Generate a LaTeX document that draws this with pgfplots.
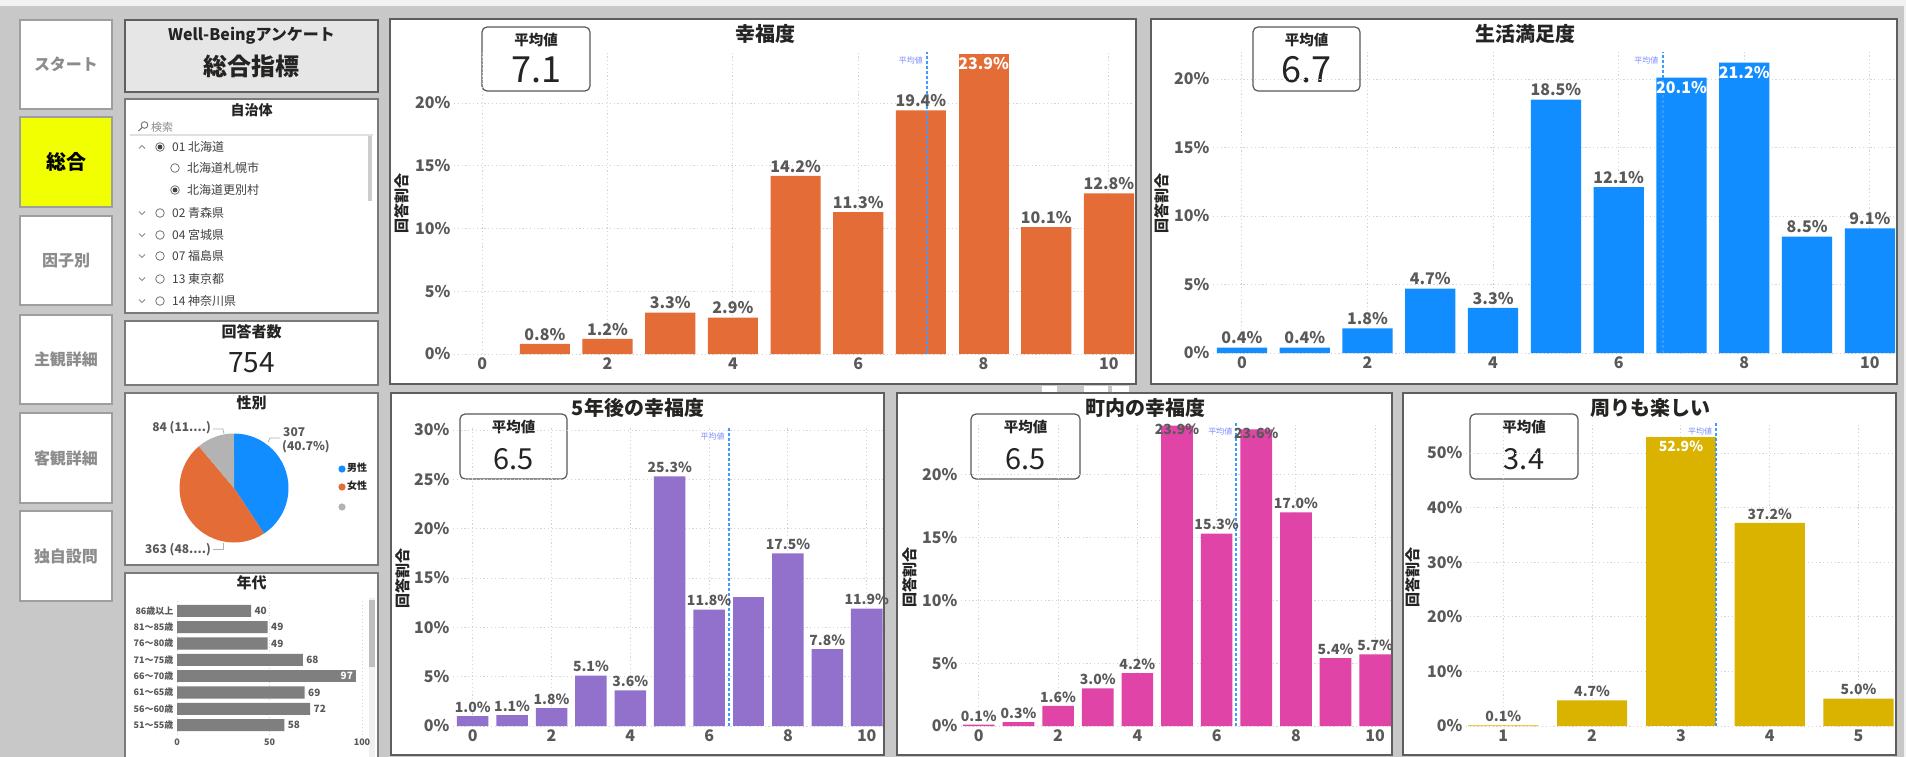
\documentclass[border=0pt]{standalone}
\usepackage{fontspec}
\setmainfont{Noto Sans CJK JP}
\usepackage{pgfplots}
\pgfplotsset{compat=1.18}
\newcommand\fs[1]{\fontsize{#1}{#1}\selectfont}
\definecolor{bgc}{HTML}{C8C8C8}
\definecolor{topc}{HTML}{F2F2F2}
\definecolor{btnb}{HTML}{9E9E9E}
\definecolor{btnt}{HTML}{8C8C8C}
\definecolor{yel}{HTML}{F2FF00}
\definecolor{pnlb}{HTML}{5E5E5E}
\definecolor{boxb}{HTML}{7A7A7A}
\definecolor{ttlbg}{HTML}{E6E6E6}
\definecolor{ttl}{HTML}{252423}
\definecolor{lbl}{HTML}{595959}
\definecolor{gridc}{HTML}{D4D4D4}
\definecolor{meanc}{HTML}{3D9BFF}
\definecolor{meant}{HTML}{7D8CFF}
\definecolor{cOrange}{HTML}{E46C37}
\definecolor{cBlue}{HTML}{118DFF}
\definecolor{cPurple}{HTML}{9171CB}
\definecolor{cPink}{HTML}{DF44A6}
\definecolor{cGold}{HTML}{D9B300}
\definecolor{cGray}{HTML}{B3B3B3}
\definecolor{ageg}{HTML}{7F7F7F}
\pgfplotsset{
 bp/.style={scale only axis, anchor=south west, ymin=0, clip=false,
   axis line style={draw=none}, tick style={draw=none},
   grid=major, major grid style={gridc, line width=0.9pt, dash pattern=on 1.2pt off 2.6pt},
   /pgf/number format/assume math mode=true,
   yticklabel={\pgfmathprintnumber{\tick}\%},
   ticklabel style={text=lbl, font=\fs{16}\bfseries}},
 bars/.style={ybar, bar width=0.8, bar shift=0pt, draw=none, point meta=y},
 labfmt/.style={nodes near coords={\pgfmathprintnumber[fixed,fixed zerofill,precision=1]{\pgfplotspointmeta}\%}},
 lab/.style={labfmt, every node near coord/.append style={anchor=south, text=lbl, font=#1}},
 inlab/.style={labfmt, every node near coord/.append style={anchor=north, text=white, font=#1}},
 toplab/.style={labfmt, every node near coord/.append style={anchor=center, yshift=-4pt, text=lbl, font=#1}},
 meanline/.style={meanc, line width=2pt, dash pattern=on 2.6pt off 2.4pt},
}
\tikzset{
 meanlab/.style={anchor=north east, inner sep=0pt, xshift=-4pt, yshift=-5pt, font=\fs{8}, text=meant},
 panel/.style={fill=white, draw=pnlb, line width=2pt},
 mbox/.style={fill=white, draw=black!65, line width=1.2pt, rounded corners=5pt},
 ptitle/.style={font=\fs{20}\bfseries, text=ttl},
 mlab/.style={font=\fs{14.5}\bfseries, text=ttl},
 ylab/.style={font=\fs{15}\bfseries, text=ttl, rotate=90},
 nav/.style={draw=btnb, line width=1.5pt, fill=white},
 navt/.style={font=\fs{16}\bfseries, text=btnt},
 item/.style={anchor=west, font=\fs{12}, text=black!75, inner sep=0pt},
}
\newcommand\radio[3]{\draw[black!55, line width=0.8pt, fill=white] (#1,#2) circle (4.3);\ifnum#3=1 \fill[black!75] (#1,#2) circle (2.4);\fi}
\newcommand\chevup[1]{\draw[black!45, line width=0.8pt] (139,#1+1.5) -- (142,#1-1.5) -- (145,#1+1.5);}
\newcommand\chevdn[1]{\draw[black!45, line width=0.8pt] (139,#1-1.5) -- (142,#1+1.5) -- (145,#1-1.5);}
\pgfmathsetmacro\aA{307/754*360}
\pgfmathsetmacro\aB{363/754*360}
\pgfmathsetmacro\aC{84/754*360}
\begin{document}
\begin{tikzpicture}[x=1pt,y=-1pt]
\useasboundingbox (0,0) rectangle (1906,757);
\fill[bgc] (0,0) rectangle (1906,757);
\fill[topc] (0,0) rectangle (1906,6);
\fill[topc] (1904,0) rectangle (1906,757);
% ---------------- navigation buttons
\draw[nav] (20,20) rectangle (112,109); \node[navt] at (66,64.5) {スタート};
\draw[nav, fill=yel] (20,117) rectangle (112,207); \node[font=\fs{20}\bfseries, text=black] at (66,162) {総合};
\draw[nav] (20,216) rectangle (112,305); \node[navt] at (66,260.5) {因子別};
\draw[nav] (20,315) rectangle (112,404); \node[navt] at (66,359.5) {主観詳細};
\draw[nav] (20,413) rectangle (112,503); \node[navt] at (66,458) {客観詳細};
\draw[nav] (20,511) rectangle (112,601); \node[navt] at (66,556) {独自設問};
% ---------------- title box
\draw[fill=ttlbg, draw=pnlb, line width=2pt] (125,20) rectangle (378,92);
\node[font=\fs{16}\bfseries, text=ttl] at (251.5,36) {Well-Beingアンケート};
\node[font=\fs{24}\bfseries, text=ttl] at (251.5,66) {総合指標};
% ---------------- slicer
\draw[fill=white, draw=boxb, line width=1.5pt] (125,99) rectangle (378,313);
\node[font=\fs{14}\bfseries, text=ttl] at (251.5,110) {自治体};
\draw[black!55, line width=0.9pt] (144.5,125) circle (3.3);
\draw[black!55, line width=1.1pt] (142.2,127.4) -- (138.5,131);
\node[anchor=west, font=\fs{11}, text=black!45, inner sep=0pt] at (151,127) {検索};
\draw[black!12, line width=2pt] (130,135.5) -- (373,135.5);
\fill[black!20] (368,136) rectangle (372,201);
\chevup{147} \radio{160}{147}{1} \node[item] at (172,147) {01 北海道};
\radio{175}{168}{0} \node[item] at (187,168) {北海道札幌市};
\radio{175}{190}{1} \node[item] at (187,190) {北海道更別村};
\chevdn{213} \radio{160}{213}{0} \node[item] at (172,213) {02 青森県};
\chevdn{235} \radio{160}{235}{0} \node[item] at (172,235) {04 宮城県};
\chevdn{256} \radio{160}{256}{0} \node[item] at (172,256) {07 福島県};
\chevdn{279} \radio{160}{279}{0} \node[item] at (172,279) {13 東京都};
\chevdn{301} \radio{160}{301}{0} \node[item] at (172,301) {14 神奈川県};
% ---------------- respondents
\draw[fill=white, draw=boxb, line width=1.5pt] (125,321) rectangle (378,385);
\node[font=\fs{15}\bfseries, text=ttl] at (251.5,332) {回答者数};
\node[font=\fs{28}, text=ttl] at (251.5,363) {754};
% ---------------- gender pie
\draw[fill=white, draw=boxb, line width=1.5pt] (125,393) rectangle (378,565);
\node[font=\fs{15}\bfseries, text=ttl] at (251.5,403) {性別};
\begin{axis}[hide axis, scale only axis, anchor=south west, at={(179.5pt,-542.5pt)}, width=109pt, height=109pt,
  xmin=-1, xmax=1, ymin=-1, ymax=1, clip=false]
\fill[cBlue] (axis cs:0,0) -- ++(90:54.5pt) arc[start angle=90, delta angle=-\aA, radius=54.5pt] -- cycle;
\fill[cOrange] (axis cs:0,0) -- ++(90-\aA:54.5pt) arc[start angle=90-\aA, delta angle=-\aB, radius=54.5pt] -- cycle;
\fill[cGray] (axis cs:0,0) -- ++(90-\aA-\aB:54.5pt) arc[start angle=90-\aA-\aB, delta angle=-\aC, radius=54.5pt] -- cycle;
\end{axis}
\draw[black!30, line width=0.7pt] (213,429) -- (223,429) -- (224,434);
\draw[black!30, line width=0.7pt] (268,442) -- (270,438) -- (280,438);
\draw[black!30, line width=0.7pt] (213,549) -- (223,549) -- (223,543);
\node[anchor=east, font=\fs{12}\bfseries, text=lbl, inner sep=0pt] at (211,428) {84 (11....)};
\node[anchor=west, font=\fs{12}\bfseries, text=lbl, inner sep=0pt] at (283,432) {307};
\node[anchor=west, font=\fs{12}\bfseries, text=lbl, inner sep=0pt] at (282,447) {(40.7\%)};
\node[anchor=east, font=\fs{12}\bfseries, text=lbl, inner sep=0pt] at (211,550) {363 (48....)};
\fill[cBlue] (342,469) circle (3.6); \node[anchor=west, font=\fs{10}\bfseries, text=ttl, inner sep=0pt] at (347,468) {男性};
\fill[cOrange] (342,487) circle (3.6); \node[anchor=west, font=\fs{10}\bfseries, text=ttl, inner sep=0pt] at (347,486) {女性};
\fill[cGray] (342,507) circle (3.6);
% ---------------- age bars
\draw[fill=white, draw=boxb, line width=1.5pt] (125,573) rectangle (378,762);
\node[font=\fs{15}\bfseries, text=ttl] at (251.5,583) {年代};
\fill[black!6] (369,598) rectangle (375,757);
\fill[black!25] (369,600) rectangle (375,667);
\begin{axis}[scale only axis, anchor=south west, at={(177pt,-735pt)}, width=185pt, height=134pt,
  xmin=0, xmax=100, ymin=-0.6, ymax=7.6, clip=false,
  axis line style={draw=none}, tick style={draw=none},
  xtick={0,50,100}, ytick={0,...,7},
  yticklabels={51～55歳,56～60歳,61～65歳,66～70歳,71～75歳,76～80歳,81～85歳,86歳以上},
  xmajorgrids, major grid style={gridc, line width=0.8pt, dash pattern=on 1pt off 2.5pt},
  ticklabel style={font=\fs{9}\bfseries, text=lbl},
  /pgf/number format/assume math mode=true]
\addplot[xbar, bar width=0.74, bar shift=0pt, fill=ageg, draw=none, point meta=x, nodes near coords,
  every node near coord/.append style={anchor=west, font=\fs{10}\bfseries, text=lbl}]
  coordinates {(58,0) (72,1) (69,2) (68,4) (49,5) (49,6) (40,7)};
\addplot[xbar, bar width=0.74, bar shift=0pt, fill=ageg, draw=none, point meta=x, nodes near coords,
  every node near coord/.append style={anchor=east, font=\fs{10}\bfseries, text=white}]
  coordinates {(97,3)};
\end{axis}
% ---------------- header icons between panels
\fill[white] (1042,386) rectangle (1057,392);
\fill[white] (1084,386) rectangle (1108,392);
\fill[white] (1112,386) rectangle (1129,392);
% ================= P1 幸福度
\draw[panel] (390,19) rectangle (1136,384);
\node[ptitle] at (765,34) {幸福度};
\draw[mbox] (482,27) rectangle (590,91);
\node[mlab] at (536,40) {平均値};
\node[font=\fs{36}, text=ttl] at (536,70) {7.1};
\node[ylab] at (402,203) {回答割合};
\begin{axis}[bp, at={(454pt,-354pt)}, width=680pt, height=302pt, xmin=-0.45, xmax=10.4, ymax=24.06,
  xtick={0,2,...,10}, ytick={0,5,...,20}]
\addplot[bars, fill=cOrange, lab={\fs{16}\bfseries}] coordinates {(1,0.8) (2,1.2) (3,3.3) (4,2.9) (5,14.2) (6,11.3) (7,19.4) (9,10.1) (10,12.8)};
\addplot[bars, fill=cOrange, inlab={\fs{16}\bfseries}] coordinates {(8,23.9)};
\addplot[meanline] coordinates {(7.1,0) (7.1,24.06)};
\node[meanlab] at (axis cs:7.1,24.06) {平均値};
\end{axis}
% ================= P2 生活満足度
\draw[panel] (1151,19) rectangle (1897,384);
\node[ptitle] at (1525,34) {生活満足度};
\draw[mbox] (1253,27) rectangle (1360,91);
\node[mlab] at (1306.5,40) {平均値};
\node[font=\fs{36}, text=ttl] at (1306.5,70) {6.7};
\node[ylab] at (1162,203) {回答割合};
\begin{axis}[bp, at={(1213pt,-353pt)}, width=682pt, height=301pt, xmin=-0.46, xmax=10.4, ymax=21.97,
  xtick={0,2,...,10}, ytick={0,5,...,20}]
\addplot[bars, fill=cBlue, lab={\fs{16}\bfseries}] coordinates {(0,0.4) (1,0.4) (2,1.8) (3,4.7) (4,3.3) (5,18.5) (6,12.1) (9,8.5) (10,9.1)};
\addplot[bars, fill=cBlue, inlab={\fs{16}\bfseries}] coordinates {(7,20.1) (8,21.2)};
\addplot[meanline] coordinates {(6.7,0) (6.7,21.97)};
\node[meanlab] at (axis cs:6.7,21.97) {平均値};
\end{axis}
% ================= P3 5年後の幸福度
\draw[panel] (391,393) rectangle (884,755);
\node[ptitle] at (638,408) {5年後の幸福度};
\draw[mbox] (460,414) rectangle (567,479);
\node[mlab] at (513.5,427) {平均値};
\node[font=\fs{29}, text=ttl] at (513.5,459) {6.5};
\node[ylab] at (403,578) {回答割合};
\begin{axis}[bp, at={(453pt,-726pt)}, width=429.5pt, height=298pt, xmin=-0.5, xmax=10.4, ymax=30.2,
  xtick={0,2,...,10}, ytick={0,5,...,30}]
\addplot[bars, fill=cPurple, lab={\fs{14}\bfseries}] coordinates {(0,1.0) (1,1.1) (2,1.8) (3,5.1) (4,3.6) (5,25.3) (6,11.8) (8,17.5) (9,7.8) (10,11.9)};
\addplot[bars, fill=cPurple] coordinates {(7,13.1)};
\addplot[meanline] coordinates {(6.5,0) (6.5,30.2)};
\node[meanlab] at (axis cs:6.5,30.2) {平均値};
\end{axis}
% ================= P4 町内の幸福度
\draw[panel] (897,393) rectangle (1392,755);
\node[ptitle] at (1145,408) {町内の幸福度};
\draw[mbox] (971,414) rectangle (1080,479);
\node[mlab] at (1025.5,427) {平均値};
\node[font=\fs{29}, text=ttl] at (1025.5,459) {6.5};
\node[ylab] at (910,577) {回答割合};
\begin{axis}[bp, at={(961pt,-726pt)}, width=430pt, height=303pt, xmin=-0.45, xmax=10.4, ymax=24.1,
  xtick={0,2,...,10}, ytick={0,5,...,20}]
\addplot[bars, fill=cPink, lab={\fs{14}\bfseries}] coordinates {(0,0.1) (1,0.3) (2,1.6) (3,3.0) (4,4.2) (6,15.3) (8,17.0) (9,5.4) (10,5.7)};
\addplot[bars, fill=cPink, toplab={\fs{14}\bfseries}] coordinates {(5,23.9) (7,23.6)};
\addplot[meanline] coordinates {(6.5,0) (6.5,24.1)};
\node[meanlab] at (axis cs:6.5,24.1) {平均値};
\end{axis}
% ================= P5 周りも楽しい
\draw[panel] (1403,393) rectangle (1896,755);
\node[ptitle] at (1650,408) {周りも楽しい};
\draw[mbox] (1470,414) rectangle (1578,479);
\node[mlab] at (1524,427) {平均値};
\node[font=\fs{29}, text=ttl] at (1524,459) {3.4};
\node[ylab] at (1413,577) {回答割合};
\begin{axis}[bp, at={(1466pt,-726pt)}, width=428pt, height=303pt, xmin=0.58, xmax=5.4, ymax=55.5,
  xtick={1,...,5}, ytick={0,10,...,50}]
\addplot[bars, bar width=0.79, fill=cGold, lab={\fs{14}\bfseries}] coordinates {(1,0.1) (2,4.7) (4,37.2) (5,5.0)};
\addplot[bars, bar width=0.79, fill=cGold, inlab={\fs{14}\bfseries}] coordinates {(3,52.9)};
\addplot[meanline] coordinates {(3.4,0) (3.4,55.5)};
\node[meanlab] at (axis cs:3.4,55.5) {平均値};
\end{axis}
\end{tikzpicture}
\end{document}
